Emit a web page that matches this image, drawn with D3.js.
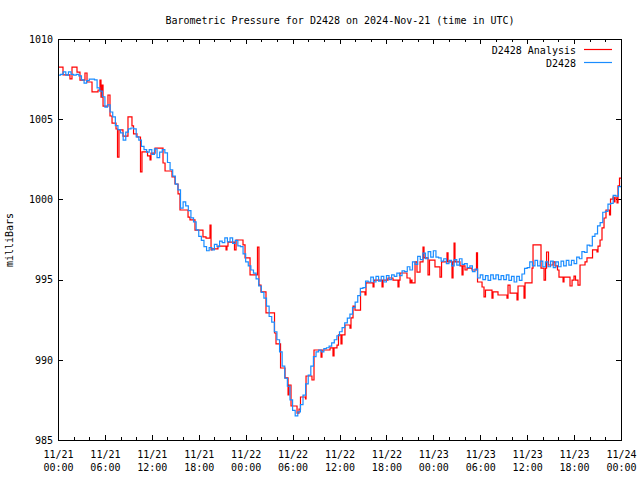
<!DOCTYPE html>
<html><head><meta charset="utf-8">
<script src="https://cdn.jsdelivr.net/npm/d3@7"></script>
<style>body{margin:0;background:#fff}svg{display:block}</style>
</head><body><svg id="c" width="640" height="480"></svg>
<script>
const title = "Barometric Pressure for D2428 on 2024-Nov-21 (time in UTC)";
const yLabel = "milliBars";
const seriesNames = ["D2428 Analysis", "D2428"];
const seriesColors = ["#ff0000", "#1a8cff"];
const startUTC = "2024-11-21T00:00:00Z";
const endUTC = "2024-11-24T00:00:00Z";
const yTicks = [985, 990, 995, 1000, 1005, 1010];
const yDomain = [985, 1010];

// D2428 observations, one value every 20 minutes from start
const blueStepMinutes = 20;
const blueValues = [
1007.75,1007.8,1007.95,1007.75,1007.95,1007.8,1007.75,1007.8,1007.7,1007.45,
1007.25,1007.4,1007.5,1007.5,1007.45,1006.95,1006.75,1006.4,1005.75,1005.9,
1005.45,1005.15,1004.6,1004.35,1004.15,1003.7,1004.2,1004.4,1004.45,1004.4,
1003.9,1003.7,1003.3,1003.1,1002.95,1003.1,1002.8,1003.15,1002.6,1002.95,
1003.1,1002.9,1002.3,1001.85,1001.45,
1000.95,1000.6,999.45,999.85,999.6,999.3,998.85,998.6,998.1,997.7,
997.45,997.05,996.8,997.0,996.85,997.2,997.05,997.4,997.3,997.6,
997.35,997.6,997.25,997.45,997.1,997.05,996.6,996.1,995.85,995.6,
995.4,995.05,994.6,994.2,993.85,993.35,992.7,992.35,
991.75,991.25,990.5,989.6,988.85,988.35,987.5,986.85,986.5,986.75,
987.2,987.8,988.5,989.05,989.6,990.2,990.5,990.6,990.5,990.7,
990.75,990.85,991.05,991.25,991.5,991.75,992.0,992.3,992.6,992.85,
993.25,993.6,994.0,994.45,994.5,994.9,994.85,995.15,994.85,995.2,
994.9,995.2,994.85,995.25,995.0,995.3,995.2,995.4,995.25,995.55,
995.5,995.8,995.6,996.1,995.95,
996.45,996.25,996.65,996.3,996.75,996.4,996.8,996.4,996.35,996.15,
996.3,996.0,996.2,995.85,996.25,995.9,996.3,995.95,996.0,995.75,
995.85,995.5,995.65,995.1,995.3,995.0,995.25,994.95,995.3,995.05,
995.3,995.0,995.25,995.0,995.3,994.95,995.2,994.85,995.2,994.95,
995.35,995.7,995.75,996.1,995.85,996.2,995.85,996.15,995.8,996.1,
995.8,996.15,995.75,996.1,995.8,996.15,995.85,996.2,995.9,996.2,
996.0,996.4,996.3,996.75,996.7,997.15,997.1,997.7,997.85,998.35,
998.55,999.2,999.25,999.7,999.75,1000.25,1000.2,1000.8,1000.85
];

// D2428 Analysis: step change points (hours after start) and values
const redHours = [
0,0.64,1.53,1.79,2.43,2.81,3.45,3.71,4.35,5.12,
5.37,5.50,5.63,5.76,6.39,6.65,6.91,7.42,7.61,7.80,
8.31,8.95,9.46,9.66,10.10,10.55,10.74,11.45,11.77,11.89,
12.41,13.43,13.69,14.58,14.96,15.35,15.60,16.63,16.88,17.52,
18.54,18.93,19.44,19.57,19.69,20.46,21.49,21.61,21.74,22.57,
22.77,23.66,23.92,24.56,25.51,25.70,25.96,26.60,27.69,27.88,
28.46,29.03,29.42,29.54,29.80,30.57,30.82,31.01,31.65,31.72,
32.48,32.74,33.64,33.76,34.79,35.17,35.30,35.68,35.87,36.19,
36.32,36.70,37.34,37.47,37.73,37.98,38.69,39.26,39.39,40.29,
40.41,41.44,41.57,42.20,42.84,43.48,43.61,43.74,44.63,45.02,
45.15,45.27,45.66,45.91,46.30,46.68,46.81,47.32,47.51,48.21,
48.85,49.05,49.75,49.88,50.39,50.52,50.65,50.77,51.41,51.67,
51.80,52.05,52.31,52.95,53.52,53.65,54.23,54.48,54.67,55.50,
55.63,56.27,57.42,57.55,57.81,58.70,58.83,59.60,59.73,60.62,
60.75,61.77,62.16,62.35,62.48,62.73,63.31,63.56,63.88,64.07,
64.59,64.71,65.48,65.74,65.99,66.18,66.50,66.76,67.40,67.65,
68.36,68.93,69.06,69.32,69.57,69.83,70.08,70.53,70.66,70.98,
71.11,71.23,71.49,71.62,71.81,72
];
const redValues = [
1008.25,1007.76,1007.51,1008.25,1007.94,1007.44,1007.88,1007.32,1006.70,1006.82,
1007.44,1006.38,1007.13,1005.82,1006.51,1005.20,1004.76,1004.39,1002.64,1004.33,
1003.95,1005.14,1004.58,1004.08,1003.89,1001.71,1002.96,1002.71,1002.46,1002.89,
1003.20,1002.27,1001.77,1001.40,1000.96,1000.34,999.34,998.90,998.72,998.09,
997.66,997.59,998.40,996.85,996.91,997.09,996.85,997.09,997.34,996.85,
997.47,997.16,996.35,995.29,997.03,994.66,994.23,992.92,991.67,990.99,
989.49,988.87,987.81,988.43,987.12,986.68,986.93,987.68,987.56,988.99,
988.74,990.61,990.17,990.61,990.74,990.24,990.74,990.92,991.55,990.99,
991.55,992.17,991.98,992.61,993.35,993.10,994.23,994.04,994.79,994.54,
994.97,994.54,994.97,995.10,994.97,994.54,994.97,995.41,995.10,994.79,
994.97,994.79,996.10,995.47,996.10,997.03,996.35,995.29,996.22,995.79,
995.16,996.10,996.66,996.10,995.10,996.10,997.28,996.10,995.85,995.29,
995.85,995.60,995.72,995.60,996.66,994.85,994.54,993.92,994.35,993.85,
994.23,994.04,993.85,994.66,994.16,993.73,994.60,993.85,994.79,995.72,
997.16,995.72,994.97,995.72,996.72,995.91,996.10,995.85,995.60,995.16,
994.85,995.16,994.60,994.97,995.22,994.97,994.66,995.91,996.10,996.35,
996.85,996.72,997.09,997.47,998.22,998.84,999.34,999.03,1000.02,1000.15,
999.84,1000.09,999.78,1000.84,1001.33,1001.33
];

const FONT = "'DejaVu Sans Mono', 'Liberation Mono', monospace";
const L = 58, R = 621, T = 39, B = 440;
const svg = d3.select("#c");
svg.append("rect").attr("width", 640).attr("height", 480).attr("fill", "#fff");

const t0 = new Date(startUTC), t1 = new Date(endUTC);
const x = d3.scaleUtc().domain([t0, t1]).range([L, R]);
const y = d3.scaleLinear().domain(yDomain).range([B, T]);

const blueData = blueValues.map((v, i) => ({t: new Date(+t0 + i * blueStepMinutes * 60000), v}));
const redData = redHours.map((h, i) => ({t: new Date(+t0 + h * 3600000), v: redValues[i]}));

const majorTicks = d3.utcHour.every(6).range(t0, new Date(+t1 + 1));
const minorTicks = d3.utcHour.every(2).range(t0, new Date(+t1 + 1)).filter(d => d.getUTCHours() % 6 !== 0);

function styleAxis(g) {
  g.select(".domain").remove();
  g.selectAll(".tick line").attr("stroke", "#000").attr("shape-rendering", "crispEdges");
  g.attr("font-family", FONT).attr("font-size", 10);
  g.selectAll(".tick text").attr("fill", "#000");
}

const gB = svg.append("g").attr("transform", `translate(0,${B})`)
  .call(d3.axisBottom(x).tickValues(majorTicks).tickSizeInner(-5).tickSizeOuter(0).tickFormat(d3.utcFormat("%m/%d")))
  .call(styleAxis);
gB.selectAll(".tick text").each(function(d) {
  const t = d3.select(this);
  t.text(null).attr("y", 0).attr("dy", null);
  t.append("tspan").attr("x", 0).attr("y", 18).text(d3.utcFormat("%m/%d")(d));
  t.append("tspan").attr("x", 0).attr("y", 31).text(d3.utcFormat("%H:%M")(d));
});
svg.append("g").attr("transform", `translate(0,${B})`)
  .call(d3.axisBottom(x).tickValues(minorTicks).tickSizeInner(-3).tickSizeOuter(0).tickFormat(""))
  .call(styleAxis);
svg.append("g").attr("transform", `translate(0,${T})`)
  .call(d3.axisTop(x).tickValues(majorTicks).tickSizeInner(-5).tickSizeOuter(0).tickFormat(""))
  .call(styleAxis);
svg.append("g").attr("transform", `translate(0,${T})`)
  .call(d3.axisTop(x).tickValues(minorTicks).tickSizeInner(-3).tickSizeOuter(0).tickFormat(""))
  .call(styleAxis);
svg.append("g").attr("transform", `translate(${L},0)`)
  .call(d3.axisLeft(y).tickValues(yTicks).tickSizeInner(-5).tickSizeOuter(0).tickPadding(5).tickFormat(d3.format("d")))
  .call(styleAxis);
svg.append("g").attr("transform", `translate(${R},0)`)
  .call(d3.axisRight(y).tickValues(yTicks).tickSizeInner(-5).tickSizeOuter(0).tickFormat(""))
  .call(styleAxis);

svg.append("clipPath").attr("id", "clip").append("rect")
  .attr("x", L).attr("y", T).attr("width", R - L).attr("height", B - T);

const line = d3.line().x(d => x(d.t)).y(d => y(d.v)).curve(d3.curveStepAfter);
const gL = svg.append("g").attr("clip-path", "url(#clip)");
gL.append("path").datum(redData).attr("d", line).attr("fill", "none")
  .attr("stroke", seriesColors[0]).attr("stroke-width", 1.2);
gL.append("path").datum(blueData).attr("d", line).attr("fill", "none")
  .attr("stroke", seriesColors[1]).attr("stroke-width", 1.2);

svg.append("rect").attr("x", L + 0.5).attr("y", T + 0.5).attr("width", R - L).attr("height", B - T)
  .attr("fill", "none").attr("stroke", "#000").attr("shape-rendering", "crispEdges");

svg.append("text").attr("x", 340).attr("y", 24).attr("text-anchor", "middle")
  .attr("font-family", FONT).attr("font-size", 10).text(title);

svg.append("text").attr("transform", "translate(13,240) rotate(-90)").attr("text-anchor", "middle")
  .attr("font-family", FONT).attr("font-size", 10).text(yLabel);

const legY = [50, 63];
seriesNames.forEach((n, i) => {
  svg.append("text").attr("x", 576).attr("y", legY[i] + 3.5).attr("text-anchor", "end")
    .attr("font-family", FONT).attr("font-size", 10).text(n);
  svg.append("line").attr("x1", 584).attr("x2", 612).attr("y1", legY[i] - 0.5).attr("y2", legY[i] - 0.5)
    .attr("stroke", seriesColors[i]).attr("stroke-width", 1.2);
});
</script>
</body></html>
